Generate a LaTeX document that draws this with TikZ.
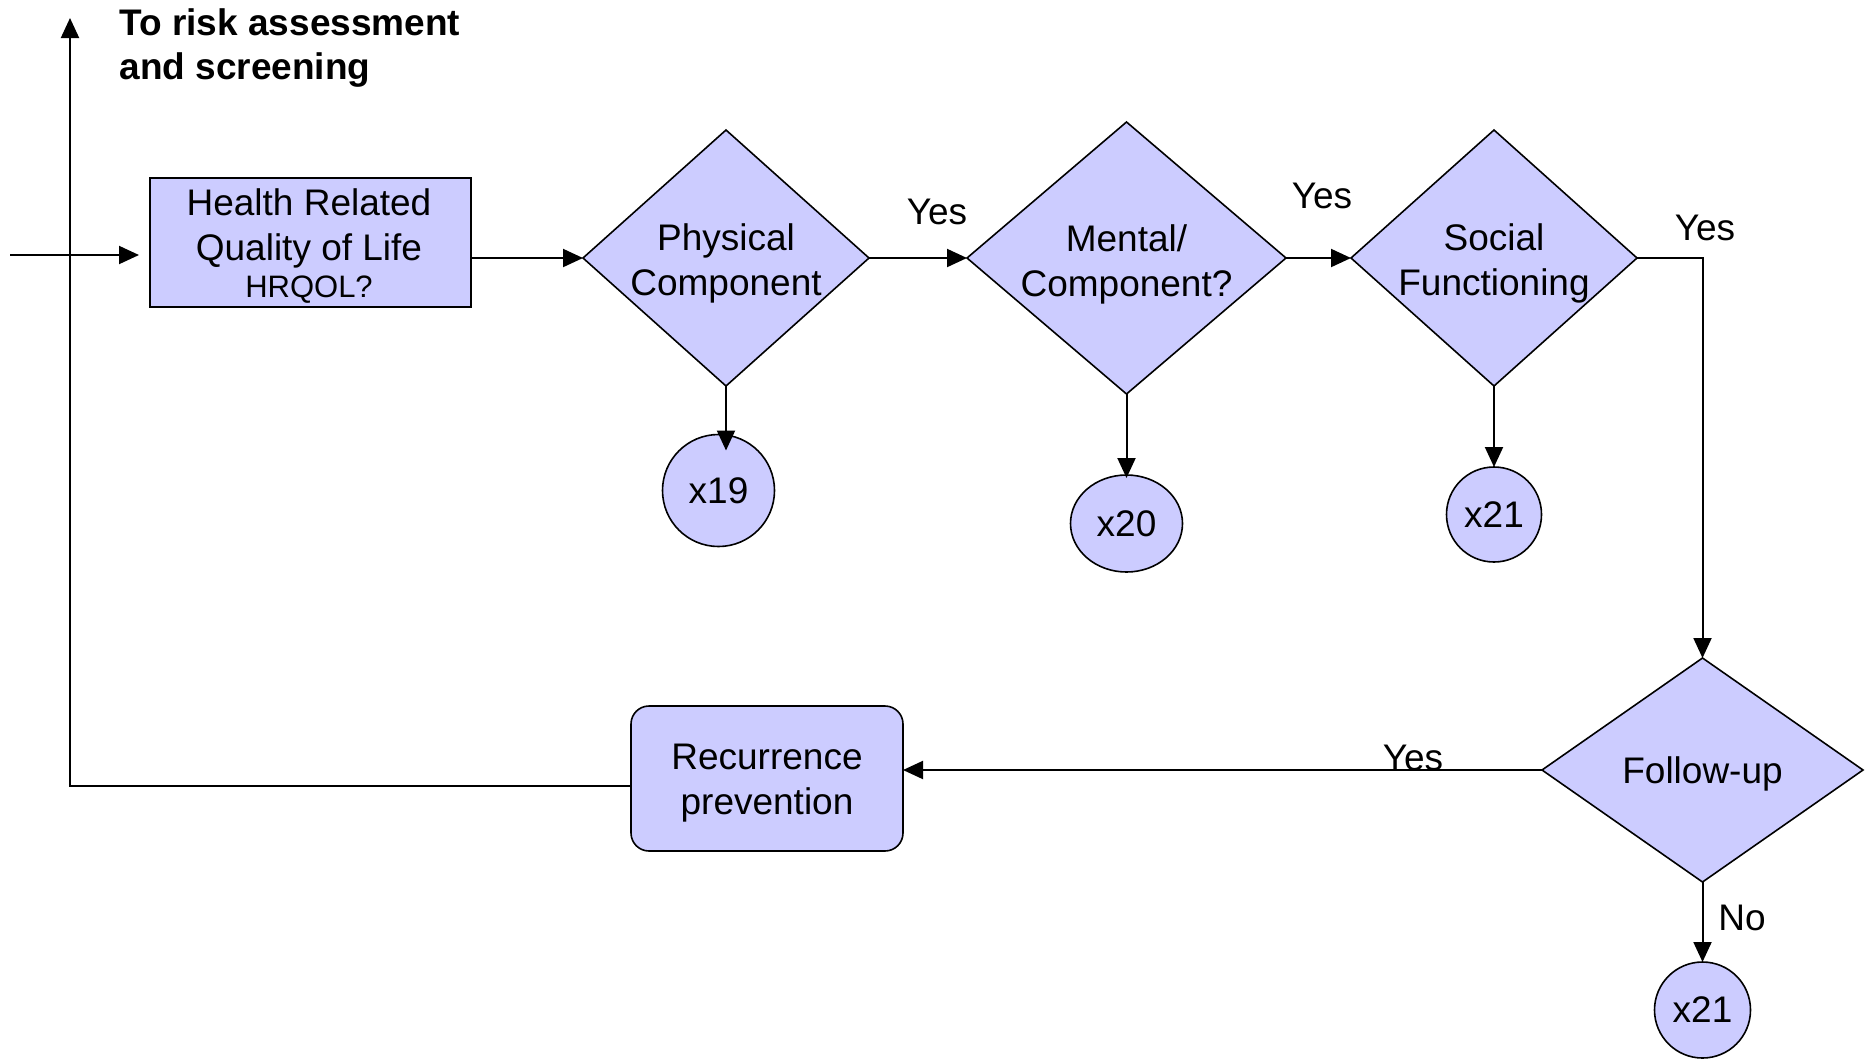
\documentclass[tikz,border=0pt]{standalone}
\usepackage{fontspec}
\setmainfont{Liberation Sans}
\usetikzlibrary{shapes.geometric,arrows.meta}
\definecolor{fillc}{RGB}{204,204,255}
\begin{document}
\begin{tikzpicture}[x=1pt,y=-1pt,
  every node/.style={font=\fontsize{37}{45}\selectfont, inner sep=0pt, outer sep=0pt},
  dia/.style={shape=diamond, draw, fill=fillc, line width=1.6pt, inner sep=0pt},
  circ/.style={ellipse, draw, fill=fillc, line width=1.6pt, inner sep=0pt},
  boxs/.style={rectangle, draw, fill=fillc, line width=1.6pt},
  conn/.style={line width=2pt},
  arr/.style={conn, -{Triangle[length=20pt,width=18pt]}},
  lbl/.style={anchor=base}
]
\useasboundingbox (0,0) rectangle (1874,1061);

% title
\node[anchor=north west, align=left, font=\bfseries\fontsize{37}{44}\selectfont] (title) at (119.5,9) {To risk assessment\\and screening};

% boxes
\node[boxs, minimum width=321pt, minimum height=129pt] (hr) at (310.5,242.5) {};
\node[align=center] (hrt) at (309,246) {Health Related\\Quality of Life\\[-8pt]{\fontsize{31}{36}\selectfont HRQOL?}};

\node[boxs, rounded corners=18pt, minimum width=272pt, minimum height=145pt] (rec) at (767,778.5) {};
\node[align=center] (rect) at ([yshift=-5pt]rec.center) {Recurrence\\prevention};

% diamonds
\node[dia, minimum width=286pt, minimum height=256pt] (phys) at (726,258) {};
\node[align=center] (physt) at ([yshift=-5pt]phys.center) {Physical\\Component};
\node[dia, minimum width=319pt, minimum height=272pt] (ment) at (1126.5,258) {};
\node[align=center] (mentt) at ([yshift=-6pt]ment.center) {Mental/\\Component?};
\node[dia, minimum width=286pt, minimum height=256pt] (soc) at (1494,258) {};
\node[align=center] (soct) at ([yshift=-5pt]soc.center) {Social\\Functioning};
\node[dia, minimum width=321pt, minimum height=224pt] (fol) at (1702.5,770) {};
\node[align=center] (folt) at ([yshift=-4pt]fol.center) {Follow-up};

% circles
\node[circ, minimum width=112pt, minimum height=112pt] (c19) at (718.5,490.5) {x19};
\node[circ, minimum width=112pt, minimum height=97pt] (c20) at (1126.5,523.5) {x20};
\node[circ, minimum width=95pt, minimum height=95pt] (c21a) at (1494,514.5) {x21};
\node[circ, minimum width=96pt, minimum height=96pt] (c21b) at (1702.5,1010) {x21};

% connectors
\coordinate (in) at (10,255);
\draw[arr, shorten >=11pt] (in) -- (in -| hr.west);
\draw[arr] (hr.east |- phys.west) -- (phys.west);
\draw[arr] (phys.east) -- (ment.west);
\draw[arr] (ment.east) -- (soc.west);
\draw[arr] (soc.east) -| (fol.north);
\draw[arr] (fol.west) -- (fol.west -| rec.east);
\coordinate (loop) at (70,786);
\coordinate (top) at (70,18);
\draw[arr] (loop -| rec.west) -- (loop) -- (top);

\draw[arr, shorten >=-16pt] (phys.south) -- (phys.south |- c19.north);
\draw[arr, shorten >=-3pt] (ment.south) -- (c20.north);
\draw[arr] (soc.south) -- (c21a.north);
\draw[arr] (fol.south) -- (c21b.north);

% labels
\node[lbl] (y1) at (937,224) {Yes};
\node[lbl] (y2) at (1322,208) {Yes};
\node[lbl] (y3) at (1705,240) {Yes};
\node[lbl] (y4) at (1413,770) {Yes};
\node[lbl] (no) at (1742,930) {No};
\end{tikzpicture}
\end{document}
